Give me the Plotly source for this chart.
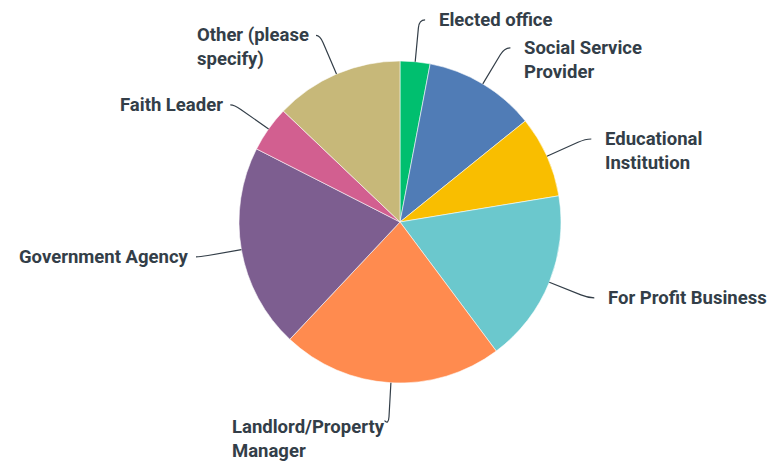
import math
import plotly.graph_objects as go

# ---- data (percent of respondents) ----
categories = ["Elected office", "Social Service Provider", "Educational Institution",
              "For Profit Business", "Landlord/Property Manager", "Government Agency",
              "Faith Leader", "Other (please specify)"]
label_text = ["Elected office", "Social Service<br>Provider", "Educational<br>Institution",
              "For Profit Business", "Landlord/Property<br>Manager", "Government Agency",
              "Faith Leader", "Other (please<br>specify)"]
values = [3.0, 11.2, 8.2, 17.4, 22.2, 20.5, 4.6, 12.9]
colors = ["#00BF6F", "#507CB6", "#F9BE00", "#6BC8CD", "#FF8B4F", "#7D5E90", "#D25F90", "#C7B879"]

W, H = 771, 462
CX, CY, R = 400, 222, 161
FONT = dict(family="Roboto", size=18.5, color="#333E48", weight="bold")

fig = go.Figure()
fig.add_trace(go.Pie(
    labels=categories, values=values, sort=False, direction="clockwise", rotation=0,
    marker=dict(colors=colors, line=dict(color="rgba(255,255,255,0.8)", width=0.7)),
    textinfo="none", hoverinfo="label+percent", showlegend=False,
    domain=dict(x=[(CX - R) / W, (CX + R) / W], y=[(H - CY - R) / H, (H - CY + R) / H]),
))

total = sum(values)
cum = 0.0
shapes, annotations = [], []
for v, txt in zip(values, label_text):
    mid = (cum + v / 2) / total * 2 * math.pi
    cum += v
    sx, sy = math.sin(mid), -math.cos(mid)
    right = sx >= 0
    bottom = sy > 0.95
    p0 = (CX + R * sx, CY + R * sy)
    p1 = (CX + 195 * sx, CY + 195 * sy)
    c = (CX + 203 * sx, CY + 203 * sy)
    e = (c[0] + (6 if right else -4), c[1] - (4 if bottom else 0))
    path = f"M {p0[0]:.1f},{p0[1]:.1f} L {p1[0]:.1f},{p1[1]:.1f} Q {c[0]:.1f},{c[1]:.1f} {e[0]:.1f},{e[1]:.1f}"
    shapes.append(dict(type="path", path=path, xref="x", yref="y",
                       line=dict(color="#333E48", width=1.2)))
    annotations.append(dict(
        x=e[0] + (12 if right else (2 if bottom else -5)),
        y=e[1] - 13 + (6 if bottom else 0), xref="x", yref="y",
        text=txt, showarrow=False, xanchor="left" if right else "right", yanchor="top",
        align="left", font=FONT))

fig.update_layout(
    width=W, height=H, margin=dict(l=0, r=0, t=0, b=0, pad=0),
    paper_bgcolor="white", plot_bgcolor="white",
    xaxis=dict(range=[0, W], visible=False, fixedrange=True),
    yaxis=dict(range=[H, 0], visible=False, fixedrange=True),
    shapes=shapes, annotations=annotations,
)
fig.write_html("out.html", config={"displayModeBar": False},
               post_script="document.body.style.margin='0px';")
